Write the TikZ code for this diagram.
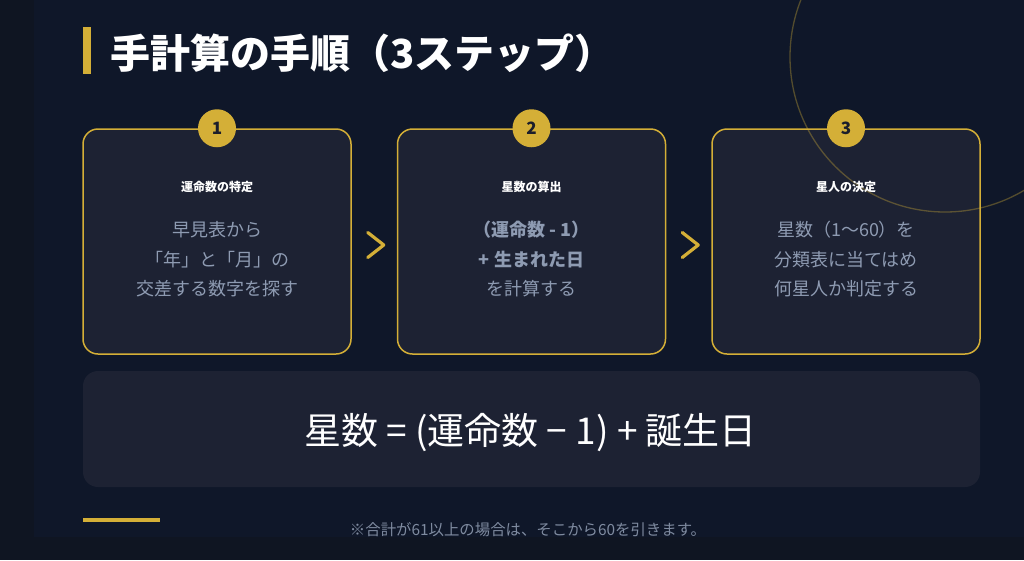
\documentclass[tikz,border=0pt]{standalone}
\usepackage{fontspec}
\setmainfont{Noto Sans CJK JP}
\newfontfamily\jp{Noto Sans CJK JP}
\usetikzlibrary{calc}
\definecolor{bgmain}{HTML}{0F1729}
\definecolor{bgdark}{HTML}{0F1522}
\definecolor{cardfill}{HTML}{1D2233}
\definecolor{gold}{HTML}{D4AF37}
\definecolor{bodytxt}{HTML}{8E9BB2}
\definecolor{numtxt}{HTML}{1B1E2B}
\definecolor{notetxt}{HTML}{7F8BA0}
\tikzset{
  card/.style={draw=gold, line width=1.5pt, fill=cardfill, rounded corners=15pt,
    minimum width=268pt, minimum height=225pt, inner sep=0pt},
  numbadge/.style={circle, fill=gold, minimum size=38pt, inner sep=0pt,
    text=numtxt, font=\jp\bfseries\fontsize{17}{17}\selectfont},
  cardtitle/.style={text=white, font=\jp\bfseries\fontsize{12}{12}\selectfont, inner sep=0pt},
  cardbody/.style={text=bodytxt, align=center, font=\jp\fontsize{18}{29.5}\selectfont, inner sep=0pt},
  chevron/.style={draw=gold, line width=3.2pt, line cap=round, line join=round},
  formulabox/.style={fill=cardfill, rounded corners=15pt, minimum width=897pt,
    minimum height=116pt, inner sep=0pt},
}
\begin{document}
\begin{tikzpicture}[x=1pt,y=-1pt]
\useasboundingbox (0,0) rectangle (1024,560);
% background
\fill[bgmain] (0,0) rectangle (1024,560);
\fill[bgdark] (0,0) rectangle (34,560);
\fill[bgdark] (0,537) rectangle (1024,560);
% title
\fill[gold] (83,27) rectangle (91,74);
\node[anchor=west, text=white, inner sep=0pt, font=\jp\bfseries\fontsize{40}{40}\selectfont] (title) at (110,53) {手計算の手順（3ステップ）};
% cards
\node[card] (c1) at (217,241.5) {};
\node[card] (c2) at (531.5,241.5) {};
\node[card] (c3) at (846,241.5) {};
% decorative circle
\draw[gold, opacity=0.35, line width=1.3pt] (945,57) circle (155);
% badges
\node[numbadge] (n1) at (c1.north) {1};
\node[numbadge] (n2) at (c2.north) {2};
\node[numbadge] (n3) at (c3.north) {3};
% card titles
\node[cardtitle] (t1) at ($(c1.north)+(0,58.5)$) {運命数の特定};
\node[cardtitle] (t2) at ($(c2.north)+(0,58.5)$) {星数の算出};
\node[cardtitle] (t3) at ($(c3.north)+(0,58.5)$) {星人の決定};
% card bodies
\node[cardbody] (b1) at ($(c1.north)+(0,131)$) {早見表から\\「年」と「月」の\\交差する数字を探す};
\node[cardbody] (b2) at ($(c2.north)+(0,131)$) {\textbf{（運命数 - 1）}\\\textbf{+ 生まれた日}\\を計算する};
\node[cardbody] (b3) at ($(c3.north)+(0,131)$) {星数（1〜60）を\\分類表に当てはめ\\何星人か判定する};
% chevrons
\coordinate (m1) at ($(c1.east)!0.5!(c2.west)+(1.5,3.5)$);
\coordinate (m2) at ($(c2.east)!0.5!(c3.west)+(1.5,3.5)$);
\draw[chevron] ($(m1)+(-8,-12.5)$) -- ($(m1)+(8,0)$) -- ($(m1)+(-8,12.5)$);
\draw[chevron] ($(m2)+(-8,-12.5)$) -- ($(m2)+(8,0)$) -- ($(m2)+(-8,12.5)$);
% formula
\node[formulabox] (fbox) at (531.5,429) {};
\node[text=white, inner sep=0pt, font=\jp\fontsize{37}{37}\selectfont] (formula) at ($(fbox.center)+(-1,4)$) {星数 = (運命数 − 1) + 誕生日};
% footer
\fill[gold] (83,518) rectangle (160,522);
\node[text=notetxt, inner sep=0pt, font=\jp\fontsize{15.4}{15.4}\selectfont] (note) at (528,530) {※合計が61以上の場合は、そこから60を引きます。};
\end{tikzpicture}
\end{document}
